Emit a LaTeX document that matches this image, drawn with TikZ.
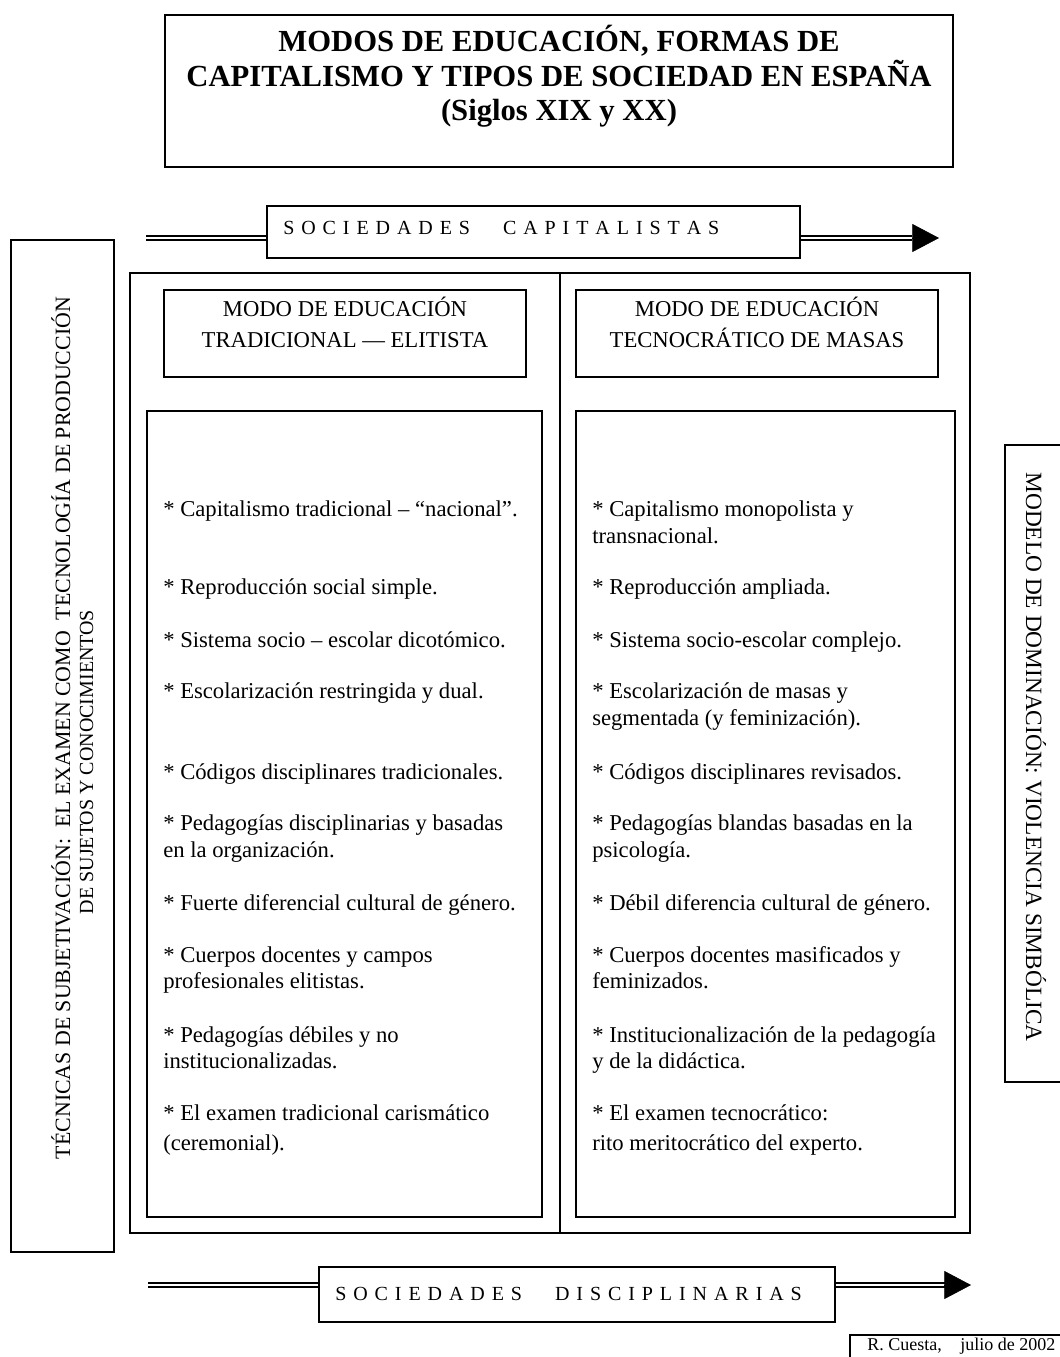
\documentclass[tikz,border=0pt]{standalone}
\usepackage{fontspec}
\setmainfont{Liberation Serif}
\usetikzlibrary{arrows.meta,fit,backgrounds}

\newcommand\spw[1]{\spwi#1\relax}
\def\spwi#1{\ifx#1\relax\else#1\hskip5.2pt\expandafter\spwi\fi}

\begin{document}
\begin{tikzpicture}[x=0.75pt,y=-0.75pt,
  box/.style={draw, line width=1.1pt, inner sep=0pt},
  frame/.style={draw, line width=1.1pt},
  body/.style={anchor=base west, inner sep=0pt, font=\fontsize{17pt}{20pt}\selectfont},
  head/.style={anchor=base, inner sep=0pt, font=\fontsize{17pt}{20pt}\selectfont},
  ttl/.style={anchor=base, inner sep=0pt, font=\fontsize{23pt}{26pt}\selectfont\bfseries},
  spaced/.style={anchor=base west, inner sep=0pt, font=\fontsize{15pt}{18pt}\selectfont},
  dbl/.style={draw, double, double distance=2pt, line width=0.9pt},
  tipline/.style={line width=0.4pt, -{Triangle[length=20pt,width=21pt]}},
]
\useasboundingbox (0,0) rectangle (1060,1357);
\clip (0,0) rectangle (1060,1357);

% ---------- boxes ----------
\node[box, fit={(165,15) (953,167)}] (title) {};
\node[box, fit={(267,206) (800,258)}] (capbox) {};
\node[box, fit={(130,273) (970,1233)}] (outer) {};
\draw[frame] (560,273) -- (560,1233);
\node[box, fit={(164,290) (526,377)}] (lhead) {};
\node[box, fit={(576,290) (938,377)}] (rhead) {};
\node[box, fit={(147,411) (542,1217)}] (lbody) {};
\node[box, fit={(576,411) (955,1217)}] (rbody) {};
\node[box, fit={(11,240) (114,1252)}] (leftv) {};
\node[box, fit={(1005,445) (1075,1082)}] (rightv) {};
\node[box, fit={(319,1267) (835,1322)}] (discbox) {};
\node[box, fit={(850,1335) (1075,1375)}] (credbox) {};

% ---------- arrows ----------
\coordinate (capL) at (146,238);
\coordinate (capB) at (912,238);
\coordinate (capR) at (939,238);
\coordinate (disL) at (148,1285);
\coordinate (disB) at (945,1285);
\coordinate (disR) at (971,1285);
\begin{scope}[on background layer]
\draw[dbl] (capL) -- (capL -| capbox.west);
\draw[dbl] (capbox.east |- capL) -- (capB);
\draw[tipline] (capB) -- (capR);
\draw[dbl] (disL) -- (disL -| discbox.west);
\draw[dbl] (discbox.east |- disL) -- (disB);
\draw[tipline] (disB) -- (disR);
\end{scope}

% ---------- title ----------
\node[ttl] (t1) at (559,51) {MODOS DE EDUCACIÓN, FORMAS DE};
\node[ttl] (t2) at (559,86) {CAPITALISMO Y TIPOS DE SOCIEDAD EN ESPAÑA};
\node[ttl] (t3) at (559,120) {(Siglos XIX y XX)};

% ---------- spaced labels ----------
\node[spaced] (capt) at (283,234) {\spw{SOCIEDADES}\hskip19.5pt\spw{CAPITALISTAS}};
\node[spaced] (disct) at (335,1300) {\spw{SOCIEDADES}\hskip19.5pt\spw{DISCIPLINARIAS}};

% ---------- headers ----------
\node[head] (lh1) at (345,316) {MODO DE EDUCACIÓN};
\node[head] (lh2) at (345,347) {TRADICIONAL — ELITISTA};
\node[head] (rh1) at (757,316) {MODO DE EDUCACIÓN};
\node[head] (rh2) at (757,347) {TECNOCRÁTICO DE MASAS};

% ---------- left column ----------
\node[body] (la1) at (163,516) {* Capitalismo tradicional – “nacional”.};
\node[body] (la2) at (163,594) {* Reproducción social simple.};
\node[body] (la3) at (163,647) {* Sistema socio – escolar dicotómico.};
\node[body] (la4) at (163,698) {* Escolarización restringida y dual.};
\node[body] (la5) at (163,779) {* Códigos disciplinares tradicionales.};
\node[body] (la6) at (163,830) {* Pedagogías disciplinarias y basadas};
\node[body] (la6b) at (163,857) {en la organización.};
\node[body] (la7) at (163,910) {* Fuerte diferencial cultural de género.};
\node[body] (la8) at (163,962) {* Cuerpos docentes y campos};
\node[body] (la8b) at (163,988) {profesionales elitistas.};
\node[body] (la9) at (163,1042) {* Pedagogías débiles y no};
\node[body] (la9b) at (163,1068) {institucionalizadas.};
\node[body] (la10) at (163,1120) {* El examen tradicional carismático};
\node[body] (la10b) at (163,1150) {(ceremonial).};

% ---------- right column ----------
\node[body] (ra1) at (592,516) {* Capitalismo monopolista y};
\node[body] (ra1b) at (592,543) {transnacional.};
\node[body] (ra2) at (592,594) {* Reproducción ampliada.};
\node[body] (ra3) at (592,647) {* Sistema socio-escolar complejo.};
\node[body] (ra4) at (592,698) {* Escolarización de masas y};
\node[body] (ra4b) at (592,725) {segmentada (y feminización).};
\node[body] (ra5) at (592,779) {* Códigos disciplinares revisados.};
\node[body] (ra6) at (592,830) {* Pedagogías blandas basadas en la};
\node[body] (ra6b) at (592,857) {psicología.};
\node[body] (ra7) at (592,910) {* Débil diferencia cultural de género.};
\node[body] (ra8) at (592,962) {* Cuerpos docentes masificados y};
\node[body] (ra8b) at (592,988) {feminizados.};
\node[body] (ra9) at (592,1042) {* Institucionalización de la pedagogía};
\node[body] (ra9b) at (592,1068) {y de la didáctica.};
\node[body] (ra10) at (592,1120) {* El examen tecnocrático:};
\node[body] (ra10b) at (592,1150) {rito meritocrático del experto.};

% ---------- vertical labels ----------
\node[rotate=90, anchor=base, inner sep=0pt, font=\fontsize{16.4pt}{19pt}\selectfont] (lv1) at (70,728)
  {TÉCNICAS DE SUBJETIVACIÓN:\ \ EL EXAMEN COMO\ \ TECNOLOGÍA DE PRODUCCIÓN};
\node[rotate=90, anchor=base, inner sep=0pt, font=\fontsize{15pt}{18pt}\selectfont] (lv2) at (93,762)
  {DE SUJETOS Y CONOCIMIENTOS};
\node[rotate=-90, anchor=base, inner sep=0pt, font=\fontsize{17.5pt}{20pt}\selectfont] (rv) at (1026,757)
  {MODELO DE DOMINACIÓN: VIOLENCIA SIMBÓLICA};

% ---------- credits ----------
\node[anchor=base west, inner sep=0pt, font=\fontsize{13.5pt}{16pt}\selectfont] (cred) at (867,1350)
  {R. Cuesta,\hskip14pt julio de 2002};
\end{tikzpicture}
\end{document}
